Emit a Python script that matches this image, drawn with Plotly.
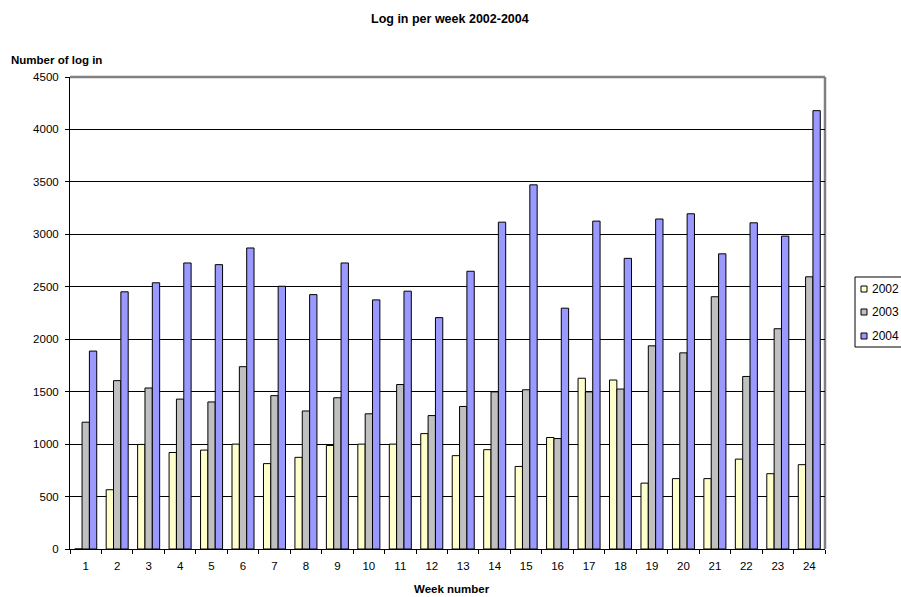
import plotly.graph_objects as go

weeks = [str(i) for i in range(1, 25)]
y2002 = [0, 565, 997, 920, 943, 1000, 814, 874, 987, 1000, 1000, 1100,
         890, 947, 787, 1063, 1628, 1611, 628, 671, 671, 857, 718, 804]
y2003 = [1209, 1605, 1535, 1429, 1402, 1738, 1462, 1316, 1442, 1289, 1568, 1272,
         1359, 1498, 1518, 1053, 1498, 1525, 1937, 1870, 2405, 1645, 2100, 2595]
y2004 = [1887, 2452, 2538, 2727, 2711, 2870, 2505, 2425, 2727, 2375, 2458, 2206,
         2648, 3116, 3472, 2296, 3126, 2771, 3146, 3196, 2814, 3110, 2983, 4179]
series_names = ["2002", "2003", "2004"]
colors = ["#FFFFCC", "#C0C0C0", "#9999FF"]

FONT = "Liberation Sans, Arial, sans-serif"

# figure pixel geometry
W, H = 901, 597
L, R, T, B = 70, 825, 77, 549
PW, PH = R - L, B - T


def px(fx):
    return (fx - L) / PW


def py(fy):
    return (B - fy) / PH


fig = go.Figure()
for name, vals, col in zip(series_names, [y2002, y2003, y2004], colors):
    fig.add_trace(go.Bar(x=weeks, y=vals, name=name, showlegend=False,
                         marker=dict(color=col, line=dict(color="black", width=1))))

annotations = [
    dict(text="<b>Log in per week 2002-2004</b>", xref="paper", yref="paper",
         x=px(450), y=py(19), showarrow=False,
         font=dict(size=12.5), xanchor="center", yanchor="middle"),
    dict(text="<b>Number of log in</b>", xref="paper", yref="paper",
         x=px(9), y=py(60), showarrow=False,
         font=dict(size=11.5), xanchor="left", yanchor="middle"),
    dict(text="<b>Week number</b>", xref="paper", yref="paper",
         x=px(452), y=py(589), showarrow=False,
         font=dict(size=11.5), xanchor="center", yanchor="middle"),
]
shapes = [
    dict(type="line", xref="paper", yref="paper", x0=0, x1=1, y0=1, y1=1,
         line=dict(color="#808080", width=2.5), layer="below"),
    dict(type="line", xref="paper", yref="paper", x0=1, x1=1, y0=0, y1=1,
         line=dict(color="#808080", width=2.5), layer="below"),
    # legend box
    dict(type="rect", xref="paper", yref="paper", x0=px(855), x1=px(912),
         y0=py(347), y1=py(277), line=dict(color="black", width=1),
         fillcolor="white"),
]
legend_rows = [289, 312, 336]
for name, col, fy in zip(series_names, colors, legend_rows):
    shapes.append(dict(type="rect", xref="paper", yref="paper",
                       x0=px(861), x1=px(867), y0=py(fy + 3), y1=py(fy - 3),
                       line=dict(color="black", width=1), fillcolor=col))
    annotations.append(dict(text=name, xref="paper", yref="paper",
                            x=px(870), y=py(fy), showarrow=False,
                            font=dict(size=12), xanchor="left", yanchor="middle"))

fig.update_layout(
    width=W, height=H,
    paper_bgcolor="white", plot_bgcolor="white",
    margin=dict(l=L, r=W - R, t=T, b=H - B, autoexpand=False),
    barmode="group", bargap=0.30, bargroupgap=0,
    font=dict(family=FONT, size=11, color="black"),
    showlegend=False,
    annotations=annotations,
    shapes=shapes,
)
fig.update_xaxes(type="category", showline=True, linecolor="black", linewidth=1,
                 ticks="outside", tickson="boundaries", ticklen=4, tickcolor="black",
                 showgrid=False, tickfont=dict(size=11.5), ticklabelstandoff=6)
fig.update_yaxes(range=[0, 4500], dtick=500, showline=True, linecolor="black",
                 linewidth=1, ticks="outside", ticklen=4, tickcolor="black",
                 showgrid=True, gridcolor="black", gridwidth=1, zeroline=False,
                 tickfont=dict(size=11.5), ticklabelstandoff=4)

fig.write_html(
    "out.html",
    config={"displayModeBar": False},
    post_script="document.body.style.margin='0';"
                "document.documentElement.style.overflow='hidden';",
)
